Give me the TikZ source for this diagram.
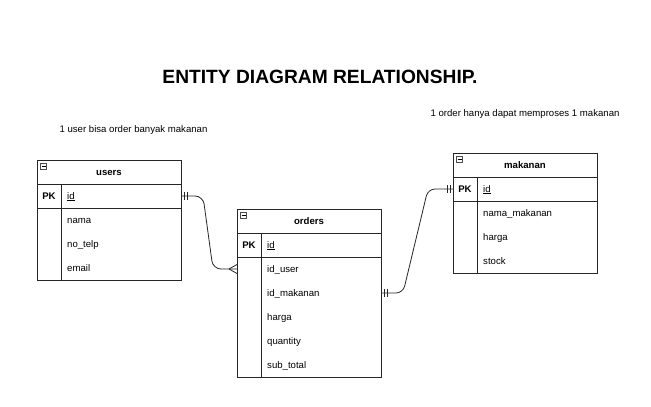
\documentclass[tikz,border=0pt]{standalone}
\usepackage{fontspec}
\setmainfont{Liberation Sans}
\usetikzlibrary{calc}
\begin{document}
\begin{tikzpicture}[x=1pt,y=-1pt,
  line/.style={draw=black!85, line width=0.8pt},
  frame/.style={line, minimum width=144pt, inner sep=0pt, outer sep=0pt},
  rowbox/.style={minimum width=144pt, minimum height=24pt, inner sep=0pt, outer sep=0pt},
  txt/.style={font=\fontsize{9.6}{11}\selectfont, inner sep=0pt, text height=6.5pt, text depth=0.5pt},
  hd/.style={txt, font=\fontsize{9.6}{11}\selectfont\bfseries},
  fld/.style={txt, anchor=west},
  pkl/.style={txt, font=\fontsize{9.6}{11}\selectfont\bfseries},
  note/.style={txt},
  minbox/.style={draw=black!70, line width=0.5pt, minimum size=6pt, inner sep=0pt, outer sep=0pt}
]
\useasboundingbox (0,0) rectangle (651,407);
\fill[white] (0,0) rectangle (651,407);

% title and notes
\node[font=\fontsize{19.2}{22}\selectfont\bfseries, inner sep=0pt, text height=13.8pt, text depth=0pt] (title) at (320,77) {ENTITY DIAGRAM RELATIONSHIP.};
\node[note] (note1) at (133.5,129) {1 user bisa order banyak makanan};
\node[note] (note2) at (525,113) {1 order hanya dapat memproses 1 makanan};

% ---------- users ----------
\node[frame, minimum height=120pt, anchor=north west] (u) at (37,160) {};
\node[rowbox, anchor=north west] (u-head) at (37,160) {};
\node[hd] (u-title) at (109,172) {users};
\node[minbox] (u-min) at (43.5,166) {};
\draw[line width=0.5pt] ($(u-min.center)+(-2,0)$) -- ($(u-min.center)+(2,0)$);
\draw[line] (u-head.south west) -- (u-head.south east);
\node[rowbox, anchor=north west] (u-pk) at (37,184) {};
\draw[line] (u-pk.south west) -- (u-pk.south east);
\draw[line] (61,184) -- (61,280);
\node[pkl] (u-pkt) at (49,196) {PK};
\node[fld] (u-id) at (67,196) {\underline{id}};
\node[fld] (u-nama) at (67,220) {nama};
\node[fld] (u-telp) at (67,244) {no\_telp};
\node[fld] (u-email) at (67,268) {email};

% ---------- orders ----------
\node[frame, minimum height=168pt, anchor=north west] (o) at (237,209) {};
\node[rowbox, anchor=north west] (o-head) at (237,209) {};
\node[hd] (o-title) at (309,221) {orders};
\node[minbox] (o-min) at (243.5,215) {};
\draw[line width=0.5pt] ($(o-min.center)+(-2,0)$) -- ($(o-min.center)+(2,0)$);
\draw[line] (o-head.south west) -- (o-head.south east);
\node[rowbox, anchor=north west] (o-pk) at (237,233) {};
\draw[line] (o-pk.south west) -- (o-pk.south east);
\draw[line] (261,233) -- (261,377);
\node[pkl] (o-pkt) at (249,245) {PK};
\node[fld] (o-id) at (267,245) {\underline{id}};
\node[rowbox, anchor=north west] (o-iduser) at (237,257) {};
\node[fld] (o-iduser-t) at (267,269) {id\_user};
\node[rowbox, anchor=north west] (o-idmak) at (237,281) {};
\node[fld] (o-idmak-t) at (267,293) {id\_makanan};
\node[fld] (o-harga) at (267,317) {harga};
\node[fld] (o-qty) at (267,341) {quantity};
\node[fld] (o-sub) at (267,365) {sub\_total};

% ---------- makanan ----------
\node[frame, minimum height=120pt, anchor=north west] (m) at (453,153) {};
\node[rowbox, anchor=north west] (m-head) at (453,153) {};
\node[hd] (m-title) at (525,165) {makanan};
\node[minbox] (m-min) at (459.5,159) {};
\draw[line width=0.5pt] ($(m-min.center)+(-2,0)$) -- ($(m-min.center)+(2,0)$);
\draw[line] (m-head.south west) -- (m-head.south east);
\node[rowbox, anchor=north west] (m-pk) at (453,177) {};
\draw[line] (m-pk.south west) -- (m-pk.south east);
\draw[line] (477,177) -- (477,273);
\node[pkl] (m-pkt) at (465,189) {PK};
\node[fld] (m-id) at (483,189) {\underline{id}};
\node[fld] (m-nama) at (483,213) {nama\_makanan};
\node[fld] (m-harga) at (483,237) {harga};
\node[fld] (m-stock) at (483,261) {stock};

% ---------- connectors ----------
% users.id  ||----<  orders.id_user
\draw[line, rounded corners=8pt] (u-pk.east) -- ++(22,0) -- (213,269) -- (o-iduser.west);
\draw[line] ($(u-pk.east)+(3,-4)$) -- ++(0,8);
\draw[line] ($(u-pk.east)+(6,-4)$) -- ++(0,8);
\draw[line] ($(o-iduser.west)+(-8,0)$) -- ($(o-iduser.west)+(0,-4.5)$);
\draw[line] ($(o-iduser.west)+(-8,0)$) -- ($(o-iduser.west)+(0,4.5)$);

% orders.id_makanan ||----|| makanan.id
\draw[line, rounded corners=7pt] (o-idmak.east) -- ++(22,0) -- (428,189) -- (m-pk.west);
\draw[line] ($(o-idmak.east)+(3,-4)$) -- ++(0,8);
\draw[line] ($(o-idmak.east)+(6,-4)$) -- ++(0,8);
\draw[line] ($(m-pk.west)+(-3,-4)$) -- ++(0,8);
\draw[line] ($(m-pk.west)+(-6,-4)$) -- ++(0,8);
\end{tikzpicture}
\end{document}
